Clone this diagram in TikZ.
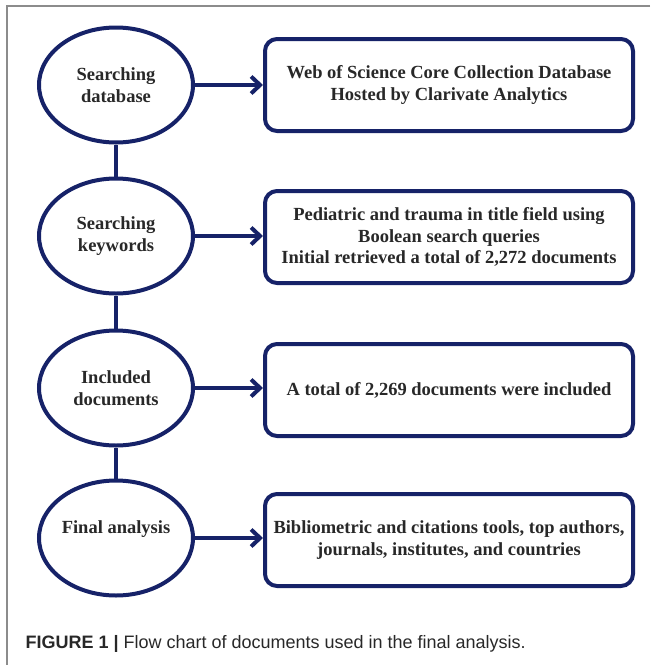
\documentclass[tikz,border=0pt]{standalone}
\usepackage{fontspec}
\setmainfont{Liberation Serif}
\newfontfamily\capfont{Liberation Sans}
\usetikzlibrary{shapes.geometric,arrows.meta}
\definecolor{navy}{RGB}{22,34,104}
\definecolor{rahmengrau}{RGB}{140,140,140}
\definecolor{schrift}{RGB}{40,40,40}

\begin{document}
\begin{tikzpicture}
		[
		x=1pt, y=-1pt, font=\fontsize{18.5}{21.5}\selectfont\bfseries, text=schrift,
		>={Straight Barb[length=9pt,width=17pt]},
		%Voreinstellungen für Ellipsen, Kästen und Pfeile
		schritt/.style={ellipse, draw=navy, line width=4pt, fill=white, minimum width=154pt, minimum height=115pt, inner sep=0pt, align=center},
		kasten/.style={rectangle, rounded corners=12pt, draw=navy, line width=4pt, fill=white, minimum width=368pt, minimum height=92pt, inner sep=0pt, align=center},
		pfeil/.style={->, draw=navy, line width=4pt},
		linie/.style={draw=navy, line width=4pt}
		]
		
		\useasboundingbox (0,0) rectangle (655,665);
		
		%Rahmen oben und links
		\draw[rahmengrau, line width=2pt] (650,6) -- (7,6) -- (7,665);
		
		%Ellipsen links
		\node[schritt] (datenbank) at (116,85) {Searching\\database};
		\node[schritt] (suche) at (116,236) {Searching\\keywords};
		\node[schritt] (einschluss) at (116,388) {Included\\documents};
		\node[schritt] (analyse) at (116,538) {Final analysis\\\mbox{}};
		
		%Kästen rechts
		\node[kasten] (wos) at (449,85) {Web of Science Core Collection Database\\Hosted by Clarivate Analytics};
		\node[kasten] (abfrage) at (449,237) {Pediatric and trauma in title field using\\Boolean search queries\\Initial retrieved a total of 2,272 documents};
		\node[kasten] (gesamt) at (449,390) {A total of 2,269 documents were included};
		\node[kasten] (werkzeuge) at (449,540) {Bibliometric and citations tools, top authors,\\journals, institutes, and countries};
		
		%Senkrechte Verbindungen
		\draw[linie] (datenbank) -- (suche);
		\draw[linie] (suche) -- (einschluss);
		\draw[linie] (einschluss) -- (analyse);
		
		%Pfeile nach rechts
		\draw[pfeil] (datenbank.east) -- (datenbank.east -| wos.west);
		\draw[pfeil] (suche.east) -- (suche.east -| abfrage.west);
		\draw[pfeil] (einschluss.east) -- (einschluss.east -| gesamt.west);
		\draw[pfeil] (analyse.east) -- (analyse.east -| werkzeuge.west);
		
		%Bildunterschrift
		\node[anchor=base west, font=\capfont\mdseries\fontsize{18}{20}\selectfont] (unterschrift) at (22,648) {\textbf{FIGURE 1 |} Flow chart of documents used in the final analysis.};
	\end{tikzpicture}
\end{document}
